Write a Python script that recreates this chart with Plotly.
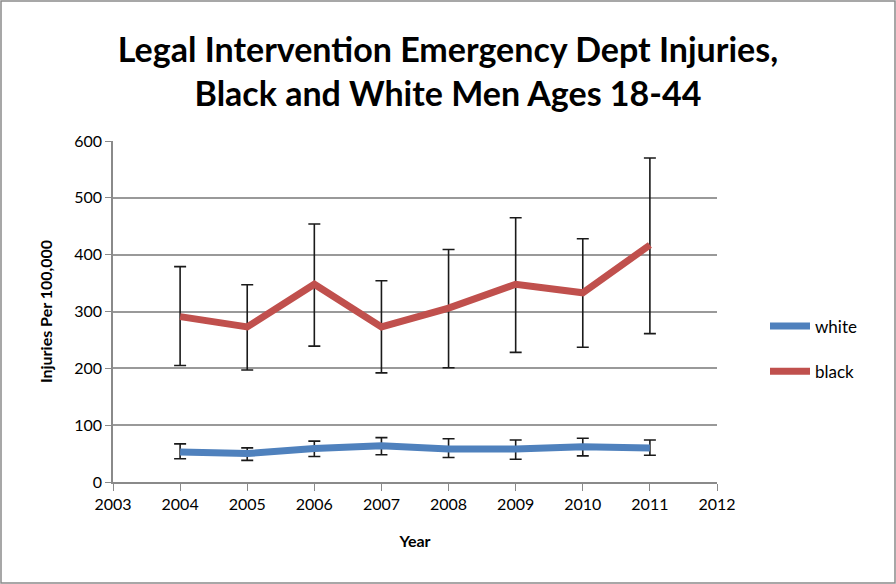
import plotly.graph_objects as go

years = [2004, 2005, 2006, 2007, 2008, 2009, 2010, 2011]
white = [53, 50, 59, 64, 58, 58, 62, 60]
white_hi = [67, 60, 72, 78, 76, 74, 77, 74]
white_lo = [41, 38, 45, 48, 43, 40, 46, 47]
black = [291, 273, 348, 273, 306, 348, 333, 417]
black_hi = [379, 347, 454, 354, 409, 465, 428, 570]
black_lo = [205, 197, 239, 192, 201, 228, 237, 261]

W, H = 896, 584
L, R, T, B = 113, 179, 141, 102

def err(vals, hi, lo):
    return dict(type="data", symmetric=False,
                array=[h - v for h, v in zip(hi, vals)],
                arrayminus=[v - l for v, l in zip(vals, lo)],
                color="#1a1a1a", thickness=1.6, width=6)

fig = go.Figure()
fig.add_trace(go.Scatter(x=years, y=white, name="white", mode="lines",
                         line=dict(color="#4F81BD", width=7),
                         error_y=err(white, white_hi, white_lo),
                         legendgroup="w"))
fig.add_trace(go.Scatter(x=years, y=black, name="black", mode="lines",
                         line=dict(color="#C0504D", width=7),
                         error_y=err(black, black_hi, black_lo),
                         legendgroup="b"))

pw = W - L - R
ph = H - T - B
fig.add_shape(type="rect", xref="paper", yref="paper",
              x0=(1 - L) / pw, x1=(W - 1 - L) / pw,
              y0=-(H - 1 - T - ph) / ph, y1=(T - 1 + ph) / ph,
              line=dict(color="#8a8a8a", width=1.5), layer="below")

fig.update_layout(
    width=W, height=H,
    margin=dict(l=L, r=R, t=T, b=B),
    paper_bgcolor="white", plot_bgcolor="white",
    font=dict(family="Lato, Carlito, sans-serif", color="#000"),
    title=dict(text="<b>Legal Intervention Emergency Dept Injuries,<br>Black and White Men Ages 18-44</b>",
               x=0.5, xanchor="center", y=1 - 62 / H, yanchor="middle",
               font=dict(size=34, family="Lato, sans-serif", color="#000")),
    xaxis=dict(range=[2003, 2012], dtick=1, tick0=2003, showgrid=False,
               showline=True, linecolor="#8a8a8a", linewidth=1.5,
               ticks="outside", ticklen=7, tickcolor="#8a8a8a",
               tickfont=dict(size=16), zeroline=False,
               title=dict(text="<b>Year</b>", font=dict(size=16), standoff=24)),
    yaxis=dict(range=[0, 600], dtick=100, showgrid=True, gridcolor="#999999",
               gridwidth=1.5, showline=True, linecolor="#8a8a8a", linewidth=1.5,
               ticks="outside", ticklen=6, tickcolor="#8a8a8a",
               tickfont=dict(size=16), zeroline=False,
               title=dict(text="<b>Injuries Per 100,000</b>", font=dict(size=16), standoff=18)),
    legend=dict(x=(765 - L) / pw, y=(H - 349 - B) / ph, xanchor="left", yanchor="middle",
                font=dict(size=17), tracegroupgap=20, itemwidth=40,
                bgcolor="rgba(0,0,0,0)"),
    showlegend=True,
)

fig.write_html("out.html")
